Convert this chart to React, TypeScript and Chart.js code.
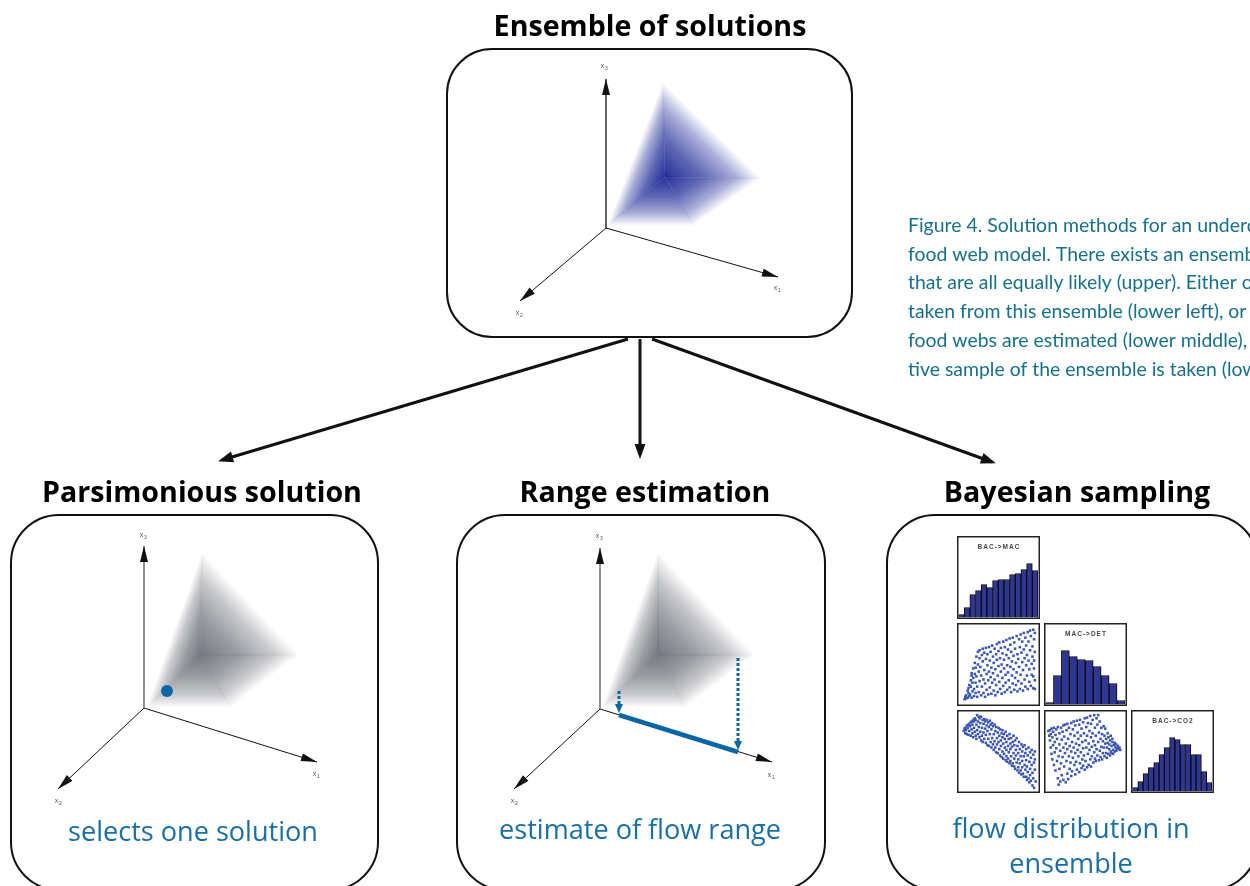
import React, { useEffect, useRef } from "react";
import { Chart, registerables } from "chart.js";

Chart.register(...registerables);

// ---------------- DATA ----------------
const HIST_TITLES = ["BAC->MAC", "MAC->DET", "BAC->CO2"];
const BAC_MAC_FREQ = [3, 10, 23, 27, 33, 30, 37, 38, 38, 43, 44, 48, 54, 47];
const MAC_DET_FREQ = [2, 29, 54, 48, 45, 44, 38, 29, 21, 4];
const BAC_CO2_FREQ = [4, 10, 18, 24, 29, 37, 44, 54, 52, 47, 47, 37, 37, 20, 9];
const HIST_MAX = 80;

// pair plot: BAC->MAC (x) vs MAC->DET (y), scaled 0-100
const PAIR_BACMAC_MACDET: number[][] = [
  [7,6],[8,9],[9,11],[9,7],[11,8],[12,14],[12,20],[11,17],[13,10],[13,24],[14,12],[15,30],[15,22],[16,36],[16,8],[17,27],[17,16],[16,39],
  [18,45],[18,33],[19,19],[19,10],[20,52],[20,38],[21,27],[21,14],[21,46],[22,60],[22,35],[23,9],[23,22],[24,66],[24,50],[25,41],[25,15],
  [26,58],[26,29],[26,68],[27,47],[28,11],[28,36],[29,62],[29,22],[30,70],[30,54],[31,31],[31,14],[32,43],[32,65],[33,9],[33,26],[34,57],
  [34,71],[35,38],[35,18],[36,49],[36,63],[37,12],[37,30],[38,72],[38,41],[39,55],[39,21],[40,66],[40,34],[41,13],[41,46],[42,74],[42,27],
  [43,60],[43,39],[44,17],[44,52],[45,70],[45,31],[46,11],[46,44],[47,63],[47,24],[48,76],[48,56],[49,36],[49,15],[50,67],[50,48],[51,28],
  [51,78],[52,58],[52,19],[53,41],[53,71],[54,13],[54,50],[55,33],[55,64],[56,23],[56,79],[57,45],[57,56],[58,15],[58,72],[59,37],[59,27],
  [60,81],[60,62],[61,49],[61,18],[62,69],[62,40],[63,30],[63,58],[64,83],[64,21],[65,75],[65,47],[66,15],[66,66],[67,36],[67,54],[68,26],
  [68,84],[69,61],[69,44],[70,18],[70,78],[71,33],[71,70],[72,52],[72,24],[73,86],[73,40],[74,63],[74,16],[75,57],[75,29],[76,82],[76,47],
  [77,19],[77,72],[78,37],[78,88],[79,65],[79,26],[80,53],[80,79],[81,17],[81,43],[82,69],[82,90],[83,31],[83,58],[84,22],[84,84],[85,49],
  [85,74],[86,36],[86,62],[87,19],[87,91],[88,55],[88,79],[89,28],[89,44],[90,68],[90,93],[91,23],[91,86],[92,51],[92,37],[93,73],[93,60],
  [94,20],[94,94],[95,45],[95,82],[96,30],[96,66],[95,55],[96,90],[94,35],[96,19]
];

// pair plot: BAC->MAC (x) vs BAC->CO2 (y)
const PAIR_BACMAC_BACCO2: number[][] = [
  [6,76],[7,79],[8,73],[8,80],[9,77],[10,83],[10,72],[11,80],[12,84],[12,71],[13,76],[13,85],[14,82],[15,70],[15,87],[16,78],[16,88],
  [17,84],[17,73],[18,90],[18,68],[19,88],[19,80],[20,75],[20,92],[21,90],[21,70],[22,84],[22,66],[23,96],[23,77],[24,88],[24,72],[25,94],
  [25,81],[26,68],[26,92],[27,86],[27,75],[28,64],[28,94],[29,80],[29,70],[30,90],[30,62],[31,85],[31,74],[32,91],[32,66],[33,79],[33,88],
  [34,61],[34,71],[35,90],[35,83],[36,58],[36,76],[37,87],[37,66],[38,81],[38,57],[39,89],[39,72],[40,62],[40,84],[41,78],[41,55],[42,86],
  [42,67],[43,59],[43,82],[44,72],[44,52],[45,84],[45,63],[46,76],[46,55],[47,49],[47,81],[48,67],[48,59],[49,74],[49,48],[50,80],[50,62],
  [51,53],[51,70],[52,78],[52,45],[53,64],[53,57],[54,73],[54,43],[55,50],[55,68],[55,77],[56,60],[56,41],[57,72],[57,47],[58,55],[58,66],
  [59,39],[59,75],[60,44],[60,62],[60,52],[61,70],[61,37],[62,57],[62,41],[63,66],[63,49],[64,35],[64,72],[65,60],[65,38],[65,53],[66,44],
  [66,67],[67,32],[67,56],[68,62],[68,35],[69,48],[69,70],[70,31],[70,58],[70,41],[71,64],[71,28],[72,52],[72,45],[73,36],[73,67],[74,26],
  [74,57],[75,40],[75,48],[75,30],[76,62],[76,23],[77,53],[77,35],[78,44],[78,26],[79,59],[79,21],[80,38],[80,50],[80,30],[81,56],[81,22],
  [82,44],[82,18],[83,33],[83,58],[84,27],[84,48],[85,18],[85,39],[85,53],[86,14],[86,31],[87,45],[87,24],[88,55],[88,16],[89,37],[89,11],
  [90,49],[90,28],[90,20],[91,42],[91,13],[92,33],[92,52],[93,7],[93,23],[94,46],[94,16],[95,36],[95,4],[96,27],[96,50],[97,12],[96,40]
];

// pair plot: MAC->DET (x) vs BAC->CO2 (y)
const PAIR_MACDET_BACCO2: number[][] = [
  [3,76],[4,70],[5,77],[5,64],[6,72],[6,55],[7,79],[7,47],[8,68],[8,40],[9,75],[9,58],[10,33],[10,80],[11,62],[11,49],[12,71],[12,26],
  [13,54],[13,78],[14,38],[14,66],[15,16],[15,81],[16,44],[16,8],[17,59],[17,73],[17,28],[18,12],[18,51],[19,80],[19,35],[20,65],[20,20],
  [21,75],[21,43],[22,55],[22,14],[22,83],[23,31],[23,69],[24,48],[24,84],[25,11],[25,60],[26,38],[26,77],[27,22],[27,53],[27,85],[28,66],
  [28,15],[29,44],[29,80],[30,28],[30,57],[31,72],[31,36],[32,86],[32,19],[32,50],[33,62],[33,25],[34,78],[34,42],[35,88],[35,55],[36,33],
  [36,70],[37,21],[37,48],[37,83],[38,60],[38,37],[39,89],[39,27],[40,74],[40,52],[41,44],[41,66],[42,84],[42,24],[42,58],[43,35],[43,90],
  [44,70],[44,49],[45,29],[45,79],[46,62],[46,40],[47,87],[47,54],[47,32],[48,73],[48,45],[49,92],[49,27],[50,64],[50,38],[51,81],[51,55],
  [52,30],[52,70],[52,93],[53,47],[53,86],[54,60],[54,33],[55,76],[55,52],[56,95],[56,40],[57,68],[57,31],[57,85],[58,56],[58,44],[59,90],
  [59,73],[60,36],[60,63],[61,49],[61,96],[62,80],[62,41],[62,58],[63,70],[63,38],[64,92],[64,53],[65,45],[65,84],[66,62],[66,96],[67,39],
  [67,74],[68,51],[68,88],[69,43],[69,66],[70,80],[70,56],[71,40],[71,72],[72,48],[72,63],[73,82],[73,55],[74,44],[74,70],[75,60],[75,79],
  [76,48],[76,66],[77,42],[77,55],[78,73],[78,61],[79,47],[79,68],[80,53],[80,59],[81,45],[81,64],[82,70],[82,50],[83,57],[83,48],[84,66],
  [84,62],[85,52],[85,47],[86,58],[87,61],[87,50],[88,55],[89,59],[89,51],[90,54],[91,57],[92,53],[93,55],[94,52]
];

const TITLES = ["Ensemble of solutions", "Parsimonious solution", "Range estimation", "Bayesian sampling"];
const SUBTITLES = ["selects one solution", "estimate of flow range", "flow distribution in", "ensemble"];
const CAPTION_LINES = [
  "Figure 4. Solution methods for an underdetermined",
  "food web model. There exists an ensemble of solutions",
  "that are all equally likely (upper). Either one solution is",
  "taken from this ensemble (lower left), or ranges of",
  "food webs are estimated (lower middle), or a representa-",
  "tive sample of the ensemble is taken (lower right).",
];
const AXIS_NAMES = ["1", "2", "3"];

// ---------------- LAYOUT ----------------
const W = 1250;
const H = 886;
const BLACK = "#111";
const BLUE = "#0b66a3";
const SUB_BLUE = "#1a6ea6";
const CAPTION_COLOR = "#16708a";
const BAR_FILL = "#2e3592";
const DOT_BLUE = "#3a55b4";

const BOXES = [
  { x0: 447, y0: 49, x1: 852, y1: 337, r: 45 },
  { x0: 11, y0: 515, x1: 378, y1: 890, r: 48 },
  { x0: 457, y0: 515, x1: 825, y1: 890, r: 48 },
  { x0: 887, y0: 515, x1: 1258, y1: 890, r: 48 },
];

const AXIS_SETS = [
  { o: [606, 228], e3: [606, 79], e1: [778, 277], e2: [520, 301], l3: [604, 68], l1: [777, 290], l2: [519, 315], x3Color: BLACK, x3Width: 1.3 },
  { o: [144, 708], e3: [144, 546], e1: [317, 762], e2: [58, 789], l3: [143, 537], l1: [316, 776], l2: [58, 803], x3Color: "#777", x3Width: 1.6 },
  { o: [600, 709], e3: [600, 548], e1: [772, 762], e2: [514, 789], l3: [599, 538], l1: [771, 777], l2: [514, 803], x3Color: "#777", x3Width: 1.6 },
];

const PYRAMIDS = [
  { c: [665, 177], v: [[663, 83], [760, 178], [693, 225], [608, 225]], rgb: "30,42,150", a: 0.97 },
  { c: [200, 655], v: [[202, 553], [298, 655], [230, 707], [147, 707]], rgb: "72,76,88", a: 0.75 },
  { c: [658, 655], v: [[658, 553], [754, 655], [685, 707], [602, 707]], rgb: "72,76,88", a: 0.75 },
];

const BIG_ARROWS = [
  [[628, 339], [222, 460]],
  [[640, 339], [640, 455]],
  [[652, 339], [992, 462]],
];

const TITLE_POS = [[650, 36], [202, 502], [645, 502], [1077, 502]];
const SUB_POS = [[193, 841], [640, 839], [1071, 838], [1071, 873]];

const PANEL_X = [957, 1044, 1131];
const PANEL_Y = [536, 623, 710];
const PANEL_SIZE = 83;

// ---------------- helpers ----------------
function fitSize(ctx: CanvasRenderingContext2D, text: string, target: number, weight: string, family: string) {
  ctx.font = `${weight} 100px ${family}`;
  return (100 * target) / ctx.measureText(text).width;
}

function roundRectPath(ctx: CanvasRenderingContext2D, x: number, y: number, w: number, h: number, r: number) {
  ctx.beginPath();
  ctx.moveTo(x + r, y);
  ctx.lineTo(x + w - r, y);
  ctx.arcTo(x + w, y, x + w, y + r, r);
  ctx.lineTo(x + w, y + h - r);
  ctx.arcTo(x + w, y + h, x + w - r, y + h, r);
  ctx.lineTo(x + r, y + h);
  ctx.arcTo(x, y + h, x, y + h - r, r);
  ctx.lineTo(x, y + r);
  ctx.arcTo(x, y, x + r, y, r);
  ctx.closePath();
}

function seg(a: number[], b: number[], color: string, width: number, extra: any = {}) {
  return {
    data: [{ x: a[0], y: a[1] }, { x: b[0], y: b[1] }],
    showLine: true,
    borderColor: color,
    backgroundColor: color,
    borderWidth: width,
    pointRadius: 0,
    order: 5,
    ...extra,
  };
}

function buildDatasets() {
  const ds: any[] = [];
  AXIS_SETS.forEach((s) => {
    ds.push(seg(s.o, s.e3, s.x3Color, s.x3Width, { arrow: { len: 16, half: 4, color: BLACK, ext: 0 } }));
    ds.push(seg(s.o, s.e1, BLACK, 1, { arrow: { len: 16, half: 4, color: BLACK, ext: 0 } }));
    ds.push(seg(s.o, s.e2, BLACK, 1, { arrow: { len: 16, half: 4, color: BLACK, ext: 0 } }));
  });
  BIG_ARROWS.forEach(([a, b]) => ds.push(seg(a, b, BLACK, 3, { arrow: { len: 15, half: 5.5, color: BLACK, ext: 4 } })));
  // range estimate along x1 of the middle panel
  ds.push(seg([619, 715], [738, 752], BLUE, 4.5, { order: 1 }));
  ds.push(seg([619, 691], [619, 706], BLUE, 3, { order: 1, borderDash: [3, 2], arrow: { len: 9, half: 4, color: BLUE, ext: 7 } }));
  ds.push(seg([738, 658], [738, 743], BLUE, 3, { order: 1, borderDash: [3, 2], arrow: { len: 9, half: 4, color: BLUE, ext: 7 } }));
  // parsimonious single solution
  ds.push({ data: [{ x: 167, y: 691 }], showLine: false, pointRadius: 6, backgroundColor: BLUE, borderWidth: 0, order: 0 });
  return ds;
}

const arrowPlugin = {
  id: "arrowHeads",
  afterDatasetsDraw(chart: any) {
    const ctx = chart.ctx;
    chart.data.datasets.forEach((ds: any, i: number) => {
      if (!ds.arrow) return;
      const pts = chart.getDatasetMeta(i).data;
      const a = pts[pts.length - 2];
      const b = pts[pts.length - 1];
      const ang = Math.atan2(b.y - a.y, b.x - a.x);
      const c = Math.cos(ang), s = Math.sin(ang);
      const { len, half, color, ext } = ds.arrow;
      const tx = b.x + ext * c, ty = b.y + ext * s;
      ctx.save();
      ctx.fillStyle = color;
      ctx.beginPath();
      ctx.moveTo(tx, ty);
      ctx.lineTo(tx - len * c + half * s, ty - len * s - half * c);
      ctx.lineTo(tx - len * c - half * s, ty - len * s + half * c);
      ctx.closePath();
      ctx.fill();
      ctx.restore();
    });
  },
};

function drawPyramid(ctx: CanvasRenderingContext2D, X: (v: number) => number, Y: (v: number) => number, p: any) {
  const cx = X(p.c[0]), cy = Y(p.c[1]);
  const pts = p.v.map((v: number[]) => [X(v[0]), Y(v[1])]);
  const n = pts.length;
  const grads: CanvasGradient[] = [];
  for (let i = 0; i < n; i++) {
    const [ax, ay] = pts[i];
    const [bx, by] = pts[(i + 1) % n];
    const dx = bx - ax, dy = by - ay;
    const t = ((cx - ax) * dx + (cy - ay) * dy) / (dx * dx + dy * dy);
    const fx = ax + t * dx, fy = ay + t * dy;
    const g = ctx.createLinearGradient(cx, cy, fx, fy);
    g.addColorStop(0, `rgba(${p.rgb},${p.a})`);
    g.addColorStop(0.4, `rgba(${p.rgb},${p.a * 0.74})`);
    g.addColorStop(0.75, `rgba(${p.rgb},${p.a * 0.4})`);
    g.addColorStop(1, `rgba(${p.rgb},0.02)`);
    grads.push(g);
    ctx.beginPath();
    ctx.moveTo(cx, cy);
    ctx.lineTo(ax, ay);
    ctx.lineTo(bx, by);
    ctx.closePath();
    ctx.fillStyle = g;
    ctx.fill();
  }
  // close the anti-aliasing seams along the ridges
  ctx.lineWidth = 0.8;
  for (let i = 0; i < n; i++) {
    ctx.beginPath();
    ctx.moveTo(cx, cy);
    ctx.lineTo(pts[(i + 1) % n][0], pts[(i + 1) % n][1]);
    ctx.strokeStyle = grads[i];
    ctx.globalAlpha = 0.28;
    ctx.stroke();
  }
  ctx.globalAlpha = 1;
}

const diagramPlugin = {
  id: "diagram",
  beforeDraw(chart: any) {
    const ctx = chart.ctx;
    ctx.save();
    ctx.fillStyle = "#fff";
    ctx.fillRect(0, 0, chart.width, chart.height);
    ctx.restore();
  },
  beforeDatasetsDraw(chart: any) {
    const ctx: CanvasRenderingContext2D = chart.ctx;
    const X = (v: number) => chart.scales.x.getPixelForValue(v);
    const Y = (v: number) => chart.scales.y.getPixelForValue(v);
    ctx.save();
    PYRAMIDS.forEach((p) => drawPyramid(ctx, X, Y, p));
    // rounded boxes
    ctx.lineWidth = 2;
    ctx.strokeStyle = BLACK;
    BOXES.forEach((b) => {
      roundRectPath(ctx, X(b.x0), Y(b.y0), X(b.x1) - X(b.x0), Y(b.y1) - Y(b.y0), b.r);
      ctx.stroke();
    });
    ctx.restore();
  },
  afterDatasetsDraw(chart: any) {
    const ctx: CanvasRenderingContext2D = chart.ctx;
    const X = (v: number) => chart.scales.x.getPixelForValue(v);
    const Y = (v: number) => chart.scales.y.getPixelForValue(v);
    ctx.save();
    // axis labels x1 x2 x3
    AXIS_SETS.forEach((s) => {
      const labels = [s.l1, s.l2, s.l3];
      labels.forEach((l, i) => {
        ctx.fillStyle = "#555";
        ctx.textAlign = "center";
        ctx.textBaseline = "alphabetic";
        ctx.font = "7px Arial, 'Liberation Sans'";
        ctx.fillText("x", X(l[0]) - 1.5, Y(l[1]));
        ctx.font = "5px Arial, 'Liberation Sans'";
        ctx.fillText(AXIS_NAMES[i], X(l[0]) + 2.5, Y(l[1]) + 2);
      });
    });
    // titles
    const tf = "'Open Sans', 'Noto Sans', sans-serif";
    const ts = fitSize(ctx, TITLES[1], 320, "bold", tf);
    ctx.font = `bold ${ts}px ${tf}`;
    ctx.fillStyle = "#000";
    ctx.textAlign = "center";
    TITLES.forEach((t, i) => ctx.fillText(t, X(TITLE_POS[i][0]), Y(TITLE_POS[i][1])));
    // subtitles
    const ss = fitSize(ctx, SUBTITLES[0], 250, "normal", tf);
    ctx.font = `normal ${ss}px ${tf}`;
    ctx.fillStyle = SUB_BLUE;
    SUBTITLES.forEach((t, i) => ctx.fillText(t, X(SUB_POS[i][0]), Y(SUB_POS[i][1])));
    // caption
    const cf = "Lato, 'Noto Sans', sans-serif";
    const cs = fitSize(ctx, "that are all equally likely (upper). Either", 329, "normal", cf);
    ctx.font = `normal ${cs}px ${cf}`;
    ctx.fillStyle = CAPTION_COLOR;
    ctx.textAlign = "left";
    CAPTION_LINES.forEach((t, i) => ctx.fillText(t, X(908), Y(232 + i * 28.7)));
    ctx.restore();
  },
};

function Diagram() {
  const ref = useRef<HTMLCanvasElement>(null);
  useEffect(() => {
    const chart = new Chart(ref.current as HTMLCanvasElement, {
      type: "scatter",
      data: { datasets: buildDatasets() },
      options: {
        responsive: false,
        animation: false,
        events: [],
        layout: { padding: 0, autoPadding: false },
        plugins: { legend: { display: false }, tooltip: { enabled: false } },
        scales: {
          x: { type: "linear", min: 0, max: W, display: false },
          y: { type: "linear", min: 0, max: H, reverse: true, display: false },
        },
      } as any,
      plugins: [diagramPlugin, arrowPlugin] as any,
    });
    return () => chart.destroy();
  }, []);
  return <canvas ref={ref} width={W} height={H} style={{ position: "absolute", left: 0, top: 0, width: W, height: H }} />;
}

const panelPlugin = {
  id: "panelFrame",
  afterDraw(chart: any) {
    const ctx = chart.ctx;
    const title = chart.options.plugins.panelFrame?.title;
    ctx.save();
    if (title) {
      ctx.font = "bold 6.5px Arial, 'Liberation Sans'";
      (ctx as any).letterSpacing = "1px";
      ctx.fillStyle = "#444";
      ctx.textAlign = "center";
      ctx.fillText(title, chart.width / 2 + 0.5, 12.5);
    }
    ctx.strokeStyle = "#222";
    ctx.lineWidth = 1.5;
    ctx.strokeRect(0.75, 0.75, chart.width - 1.5, chart.height - 1.5);
    ctx.restore();
  },
};

function Panel({ kind, values, title, col, row }: { kind: "hist" | "pair"; values: any; title?: string; col: number; row: number }) {
  const ref = useRef<HTMLCanvasElement>(null);
  useEffect(() => {
    let config: any;
    if (kind === "hist") {
      config = {
        type: "bar",
        data: {
          labels: values.map((_: number, i: number) => String(i + 1)),
          datasets: [{ data: values, backgroundColor: BAR_FILL, borderColor: "#0a0a0a", borderWidth: 1, barPercentage: 1, categoryPercentage: 1 }],
        },
        options: {
          responsive: false, animation: false, events: [],
          layout: { padding: { left: 1.5, right: 2, top: 1.5, bottom: 1.5 }, autoPadding: false },
          plugins: { legend: { display: false }, tooltip: { enabled: false }, panelFrame: { title } },
          scales: { x: { display: false }, y: { display: false, min: 0, max: HIST_MAX } },
        },
        plugins: [panelPlugin],
      };
    } else {
      config = {
        type: "scatter",
        data: {
          datasets: [{ data: values.map((p: number[]) => ({ x: p[0], y: p[1] })), pointStyle: "rect", pointRadius: 1.8, backgroundColor: DOT_BLUE, borderWidth: 0 }],
        },
        options: {
          responsive: false, animation: false, events: [],
          layout: { padding: 2, autoPadding: false },
          plugins: { legend: { display: false }, tooltip: { enabled: false }, panelFrame: {} },
          scales: { x: { type: "linear", display: false, min: 0, max: 100 }, y: { type: "linear", display: false, min: 0, max: 100 } },
        },
        plugins: [panelPlugin],
      };
    }
    const chart = new Chart(ref.current as HTMLCanvasElement, config);
    return () => chart.destroy();
  }, []);
  return (
    <canvas
      ref={ref}
      width={PANEL_SIZE}
      height={PANEL_SIZE}
      style={{ position: "absolute", left: PANEL_X[col], top: PANEL_Y[row], width: PANEL_SIZE, height: PANEL_SIZE }}
    />
  );
}

export default function App() {
  return (
    <div style={{ position: "absolute", left: 0, top: 0, width: W, height: H, overflow: "hidden", background: "#fff" }}>
      <Diagram />
      <Panel kind="hist" values={BAC_MAC_FREQ} title={HIST_TITLES[0]} col={0} row={0} />
      <Panel kind="hist" values={MAC_DET_FREQ} title={HIST_TITLES[1]} col={1} row={1} />
      <Panel kind="hist" values={BAC_CO2_FREQ} title={HIST_TITLES[2]} col={2} row={2} />
      <Panel kind="pair" values={PAIR_BACMAC_MACDET} col={0} row={1} />
      <Panel kind="pair" values={PAIR_BACMAC_BACCO2} col={0} row={2} />
      <Panel kind="pair" values={PAIR_MACDET_BACCO2} col={1} row={2} />
    </div>
  );
}
